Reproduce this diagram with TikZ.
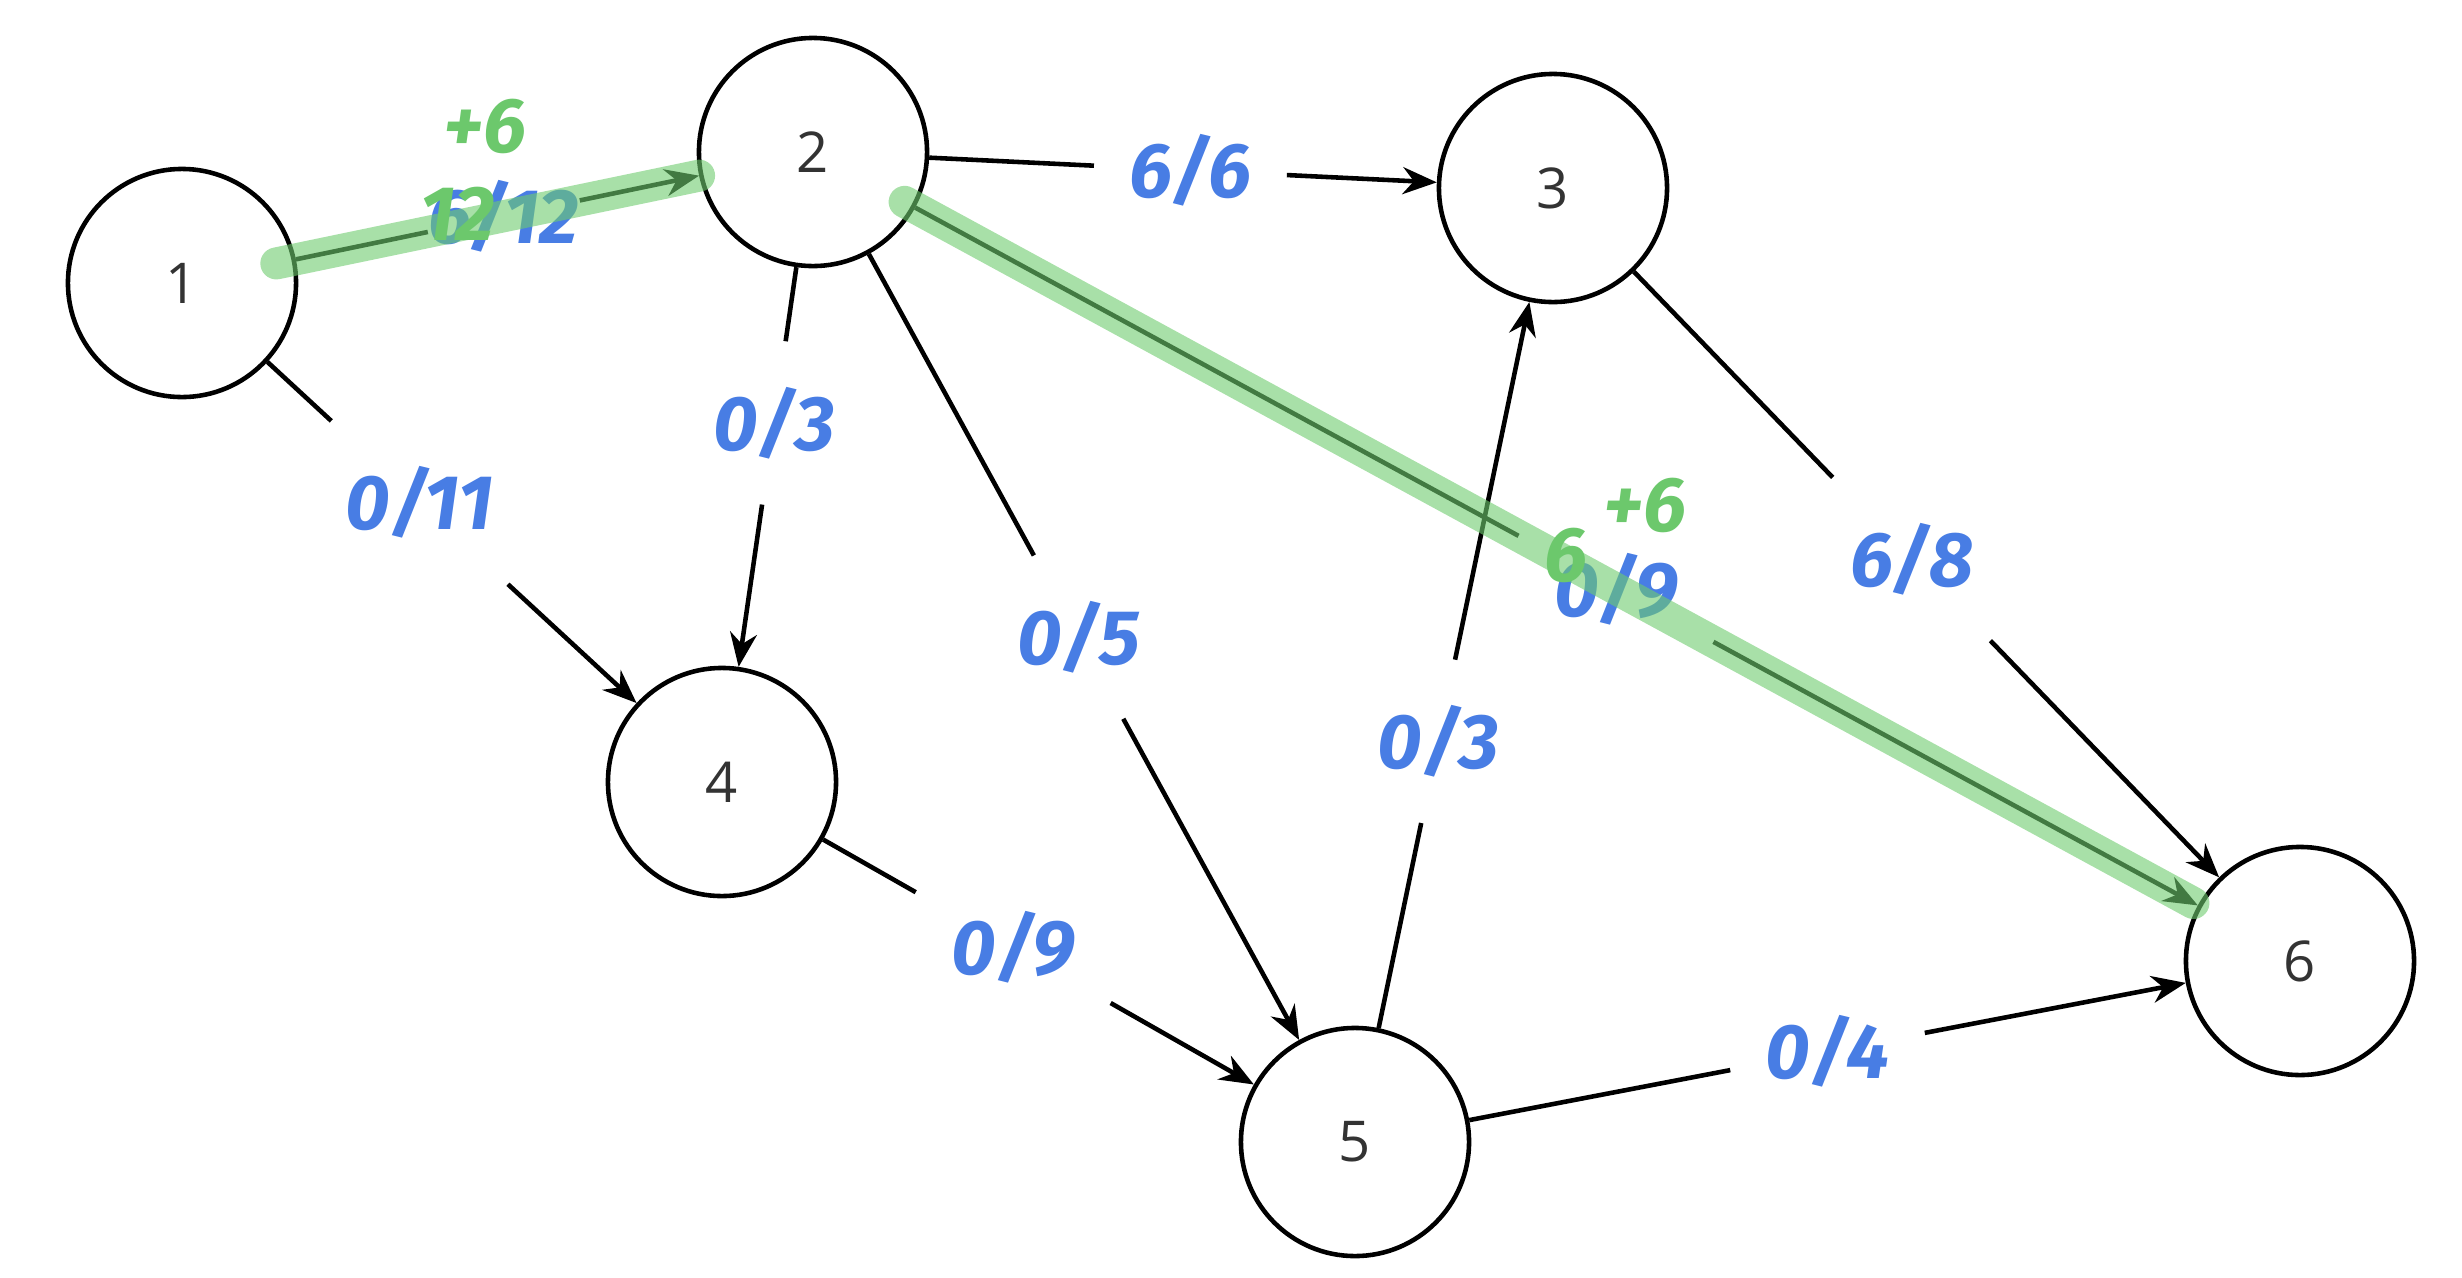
\documentclass[tikz,border=0pt]{standalone}
\usepackage{fontspec}
\setmainfont{Open Sans}
\newfontfamily\hand{Fira Sans}
\usetikzlibrary{arrows.meta,calc}
\definecolor{penblue}{RGB}{72,125,228}
\definecolor{pengreen}{RGB}{108,200,108}
\definecolor{hlgreen}{RGB}{110,204,110}
\begin{document}
\begin{tikzpicture}[x=0.01cm,y=-0.01cm,
  vert/.style={circle, draw, line width=1.3pt, minimum size=2.28cm, inner sep=0pt,
    font=\fontsize{16}{19}\selectfont, text=black!80},
  edge/.style={line width=1.3pt},
  arr/.style={edge, -{Stealth[length=0.34cm,width=0.27cm]}},
  lbl/.style={inner xsep=0.35cm, inner ysep=0.45cm, text=penblue,
    font=\hand\bfseries\itshape\fontsize{22}{26}\selectfont},
  hl/.style={line width=0.32cm, draw=hlgreen, opacity=0.6, line cap=round},
  gtxt/.style={inner sep=0pt, text=pengreen, font=\hand\bfseries\itshape\fontsize{22}{26}\selectfont}]
\useasboundingbox (0,0) rectangle (2462,1278);

% vertices
\node[vert] (n1) at (182,283) {1};
\node[vert] (n2) at (813,152) {2};
\node[vert] (n3) at (1553,188) {3};
\node[vert] (n4) at (722,782) {4};
\node[vert] (n5) at (1355,1142) {5};
\node[vert] (n6) at (2300,961) {6};

% labels
\node[lbl, inner xsep=0cm] (l12) at ($(n1)!0.51!(n2)$) {6/12};
\node[lbl] (l23) at ($(n2)!0.51!(n3)$) {6/6};
\node[lbl] (l24) at ($(n2)!0.43!(n4)$) {0/3};
\node[lbl] (l14) at ($(n1)!0.44!(n4)$) {0/11};
\node[lbl] (l25) at ($(n2)!0.49!(n5)$) {0/5};
\node[lbl] (l26) at ($(n2)!0.54!(n6)$) {0/9};
\node[lbl] (l36) at ($(n3)!0.48!(n6)$) {6/8};
\node[lbl] (l53) at ($(n5)!0.42!(n3)$) {0/3};
\node[lbl] (l45) at ($(n4)!0.46!(n5)$) {0/9};
\node[lbl] (l56) at ($(n5)!0.50!(n6)$) {0/4};

% edges
\draw[edge] (n1) -- (l12); \draw[arr] (l12) -- (n2);
\draw[edge] (n2) -- (l23); \draw[arr] (l23) -- (n3);
\draw[edge] (n2) -- (l24); \draw[arr] (l24) -- (n4);
\draw[edge] (n1) -- (l14); \draw[arr] (l14) -- (n4);
\draw[edge] (n2) -- (l25); \draw[arr] (l25) -- (n5);
\draw[edge] (n2) -- (l26); \draw[arr] (l26) -- (n6);
\draw[edge] (n3) -- (l36); \draw[arr] (l36) -- (n6);
\draw[edge] (n5) -- (l53); \draw[arr] (l53) -- (n3);
\draw[edge] (n4) -- (l45); \draw[arr] (l45) -- (n5);
\draw[edge] (n5) -- (l56); \draw[arr] (l56) -- (n6);

% highlighted augmenting path
\draw[hl, shorten <=-0.2cm] (n1) -- (n2);
\draw[hl, shorten <=-0.12cm, shorten >=0.05cm] (n2) -- (n6);

% green annotations
\node[gtxt] (g12a) at (485,126) {+6};
\node[gtxt] (g12b) at (458,214) {12};
\node[gtxt] (g26a) at (1645,505) {+6};
\node[gtxt] (g26b) at (1566,555) {6};
\end{tikzpicture}
\end{document}
